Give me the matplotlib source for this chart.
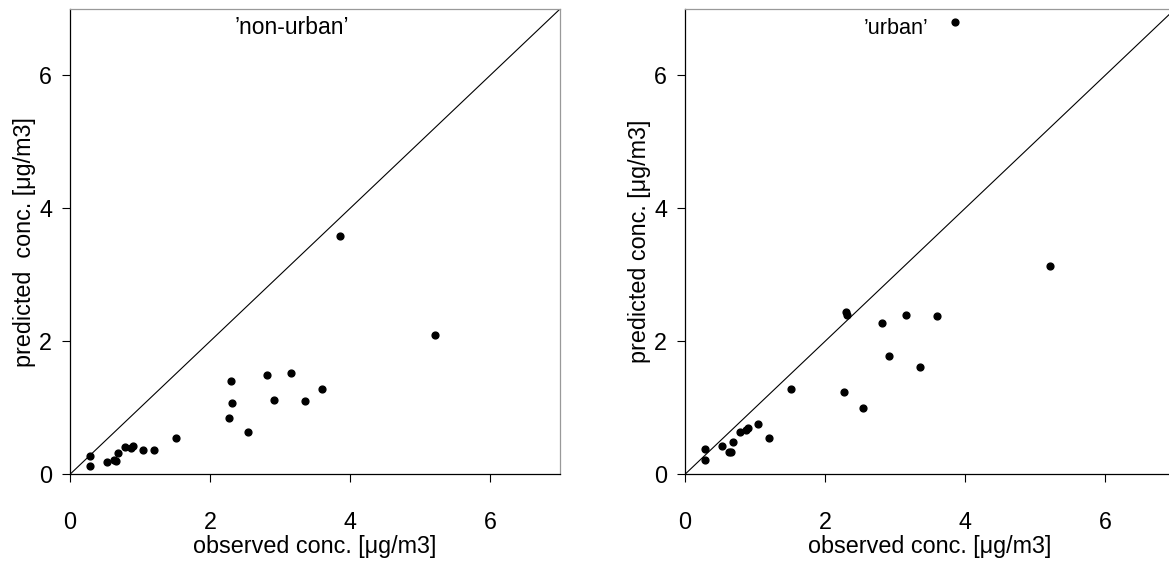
import numpy as np
import matplotlib
matplotlib.use('Agg')
import matplotlib.pyplot as plt

plt.rcParams['font.family'] = ['Liberation Sans', 'DejaVu Sans']

# observed concentrations (same sites in both panels)
observed = [0.28, 0.28, 0.53, 0.63, 0.65, 0.68, 0.78, 0.87, 0.90, 1.04, 1.20, 1.51,
            2.27, 2.30, 2.31, 2.54, 2.81, 2.92, 3.15, 3.35, 3.60, 3.86, 5.22]

# predicted concentrations, non-urban model
pred_nonurban = [0.28, 0.13, 0.19, 0.21, 0.20, 0.32, 0.41, 0.40, 0.42, 0.37, 0.37, 0.55,
                 0.85, 1.41, 1.07, 0.63, 1.49, 1.12, 1.53, 1.11, 1.28, 3.59, 2.10]

# predicted concentrations, urban model
pred_urban = [0.38, 0.21, 0.42, 0.34, 0.34, 0.48, 0.63, 0.66, 0.70, 0.75, 0.54, 1.29,
              1.24, 2.44, 2.40, 1.00, 2.28, 1.78, 2.39, 1.61, 2.38, 6.81, 3.13]

# title, predictions, title x, title size, y label
panels = [("’non-urban’", pred_nonurban, 3.17, 16.5, "predicted  conc. [μg/m3]"),
          ("’urban’", pred_urban, 3.02, 15.6, "predicted conc. [μg/m3]")]
ticks = [0, 2, 4, 6]
lim = 7

fig = plt.figure(figsize=(11.69, 5.62), dpi=100)
lefts = [70 / 1169, 685 / 1169]
fs = 16.8

for (name, pred, tx, tfs, ylab), left in zip(panels, lefts):
    ax = fig.add_axes([left, 87.7 / 562, 490 / 1169, 465.3 / 562])
    ax.set_xlim(0, lim)
    ax.set_ylim(0, lim)
    # 1:1 line
    ax.plot([0, lim], [0, lim], color='black', lw=0.8)
    ax.scatter(observed, pred, s=24, color='black', zorder=3, clip_on=False)
    ax.text(tx, 6.62, name, ha='center', va='baseline', fontsize=tfs)

    ax.set_xticks(ticks)
    ax.set_yticks(ticks)
    ax.tick_params(axis='x', direction='out', length=5.8, width=0.8, pad=20.5, labelsize=fs)
    ax.tick_params(axis='y', direction='out', length=5.8, width=0.8, pad=7, labelsize=fs)
    for s in ['left', 'bottom']:
        ax.spines[s].set_color('black')
        ax.spines[s].set_linewidth(0.9)
    for s in ['top', 'right']:
        ax.spines[s].set_color('#999999')
        ax.spines[s].set_linewidth(0.9)

    ax.set_xlabel("observed conc. [μg/m3]", fontsize=fs, va='baseline')
    ax.xaxis.set_label_coords(0.5, -0.169)
    ax.set_ylabel(ylab, fontsize=fs, va='center')
    ax.yaxis.set_label_coords(-0.093, 0.5)

fig.savefig('out.png', dpi=100)
